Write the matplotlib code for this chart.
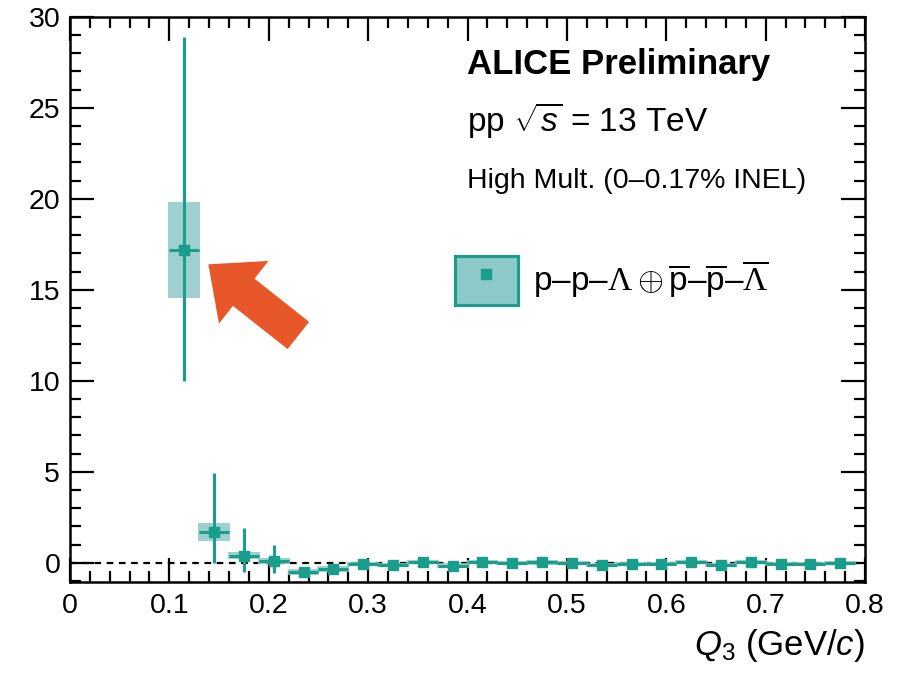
import matplotlib
matplotlib.use("Agg")
import matplotlib.pyplot as plt
from matplotlib.patches import Rectangle, Patch
from matplotlib.lines import Line2D
from matplotlib.ticker import MultipleLocator

plt.rcParams['font.family'] = ['Liberation Sans', 'DejaVu Sans']
plt.rcParams['mathtext.fontset'] = 'custom'
plt.rcParams['mathtext.rm'] = 'Liberation Sans'
plt.rcParams['mathtext.it'] = 'Liberation Sans:italic'
plt.rcParams['mathtext.bf'] = 'Liberation Sans:bold'
plt.rcParams['mathtext.sf'] = 'Liberation Serif'  # serif Greek in the legend

# Q3 bin centres (GeV/c)
q3 = [0.115, 0.145, 0.175, 0.205, 0.235, 0.265, 0.295, 0.325, 0.355, 0.385,
      0.415, 0.445, 0.475, 0.505, 0.535, 0.565, 0.595, 0.625, 0.655, 0.685,
      0.715, 0.745, 0.775]
# correlation values
val = [17.2, 1.7, 0.4, 0.1, -0.5, -0.33, -0.05, -0.1, 0.05, -0.15,
       0.05, 0.0, 0.03, 0.0, -0.1, -0.07, -0.07, 0.05, -0.13, 0.05,
       -0.07, -0.07, 0.0]
# statistical errors (low, high)
stat_lo = [7.2, 1.7, 0.9, 0.65, 0.15, 0.15, 0.12, 0.12, 0.12, 0.12,
           0.12, 0.1, 0.1, 0.1, 0.1, 0.1, 0.1, 0.1, 0.1, 0.1,
           0.1, 0.1, 0.1]
stat_hi = [11.7, 3.25, 1.5, 0.9, 0.15, 0.15, 0.12, 0.12, 0.12, 0.12,
           0.12, 0.1, 0.1, 0.1, 0.1, 0.1, 0.1, 0.1, 0.1, 0.1,
           0.1, 0.1, 0.1]
# systematic errors
syst = [2.65, 0.5, 0.18, 0.18, 0.15, 0.15, 0.12, 0.12, 0.12, 0.12,
        0.12, 0.12, 0.12, 0.12, 0.12, 0.12, 0.12, 0.12, 0.12, 0.12,
        0.12, 0.12, 0.12]

teal = '#1a9e8c'
fill = '#8ec8c8'

fig = plt.figure(figsize=(9.03, 6.74), dpi=100)
ax = fig.add_axes([0.0775, 0.1365, 0.8805, 0.8385])

# zero line
ax.axhline(0, color='black', lw=1.6, ls=(0, (3, 2.5)), zorder=1)

# systematic boxes
for x, y, s in zip(q3, val, syst):
    ax.add_patch(Rectangle((x - 0.016, y - s), 0.032, 2 * s, facecolor=fill,
                           edgecolor='none', alpha=0.85, zorder=2))

ax.errorbar(q3, val, yerr=[stat_lo, stat_hi], xerr=0.015, fmt='s', color=teal,
            ms=7.5, elinewidth=2.2, capsize=0, zorder=3)

ax.set_xlim(0, 0.8)
ax.set_ylim(-1.05, 30)
ax.xaxis.set_major_locator(MultipleLocator(0.1))
ax.xaxis.set_minor_locator(MultipleLocator(0.02))
ax.yaxis.set_major_locator(MultipleLocator(5))
ax.yaxis.set_minor_locator(MultipleLocator(1))
ax.tick_params(which='both', direction='in', top=True, right=True, width=1.6,
               labelsize=20.5)
ax.tick_params(which='major', length=17)
ax.tick_params(which='minor', length=8)
ax.tick_params(axis='x', pad=8)
ax.tick_params(axis='y', pad=7)
ax.set_xticks([0, 0.1, 0.2, 0.3, 0.4, 0.5, 0.6, 0.7, 0.8])
ax.set_xticklabels(['0', '0.1', '0.2', '0.3', '0.4', '0.5', '0.6', '0.7', '0.8'])
for sp in ax.spines.values():
    sp.set_linewidth(1.8)

ax.set_xlabel(r'$Q_{3}$ (GeV/$c$)', fontsize=25, loc='right', labelpad=6)

# texts
ax.text(0.499, 0.915, 'ALICE Preliminary', transform=ax.transAxes,
        fontsize=25, fontweight='bold', va='center')
ax.text(0.499, 0.818, r'pp $\sqrt{s}$ = 13 TeV', transform=ax.transAxes,
        fontsize=24, va='center')
ax.text(0.499, 0.709, 'High Mult. (0–0.17% INEL)', transform=ax.transAxes,
        fontsize=20.5, va='center')

# legend
h = (Patch(facecolor=fill, edgecolor=teal, lw=2.2),
     Line2D([], [], marker='s', color=teal, ls='none', ms=7.5))
lab = (r'p–p–$\mathsf{\Lambda}\oplus\overline{\mathrm{p}}$–$\overline{\mathrm{p}}$–'
       r'$\overline{\mathsf{\Lambda}}$')
leg = ax.legend([h], [lab], loc='center left', bbox_to_anchor=(0.484, 0.533),
                frameon=False, fontsize=24, handlelength=1.9, handleheight=1.9,
                handletextpad=0.45, borderaxespad=0, borderpad=0)

# arrow
ax.annotate('', xy=(0.137, 16.5), xytext=(0.232, 12.4),
            arrowprops=dict(arrowstyle='simple,head_width=2.3,head_length=1.3,tail_width=1.0',
                            fc='#e8572a', ec='none', mutation_scale=25), zorder=4)

fig.savefig('out.png', dpi=100, facecolor='white')
